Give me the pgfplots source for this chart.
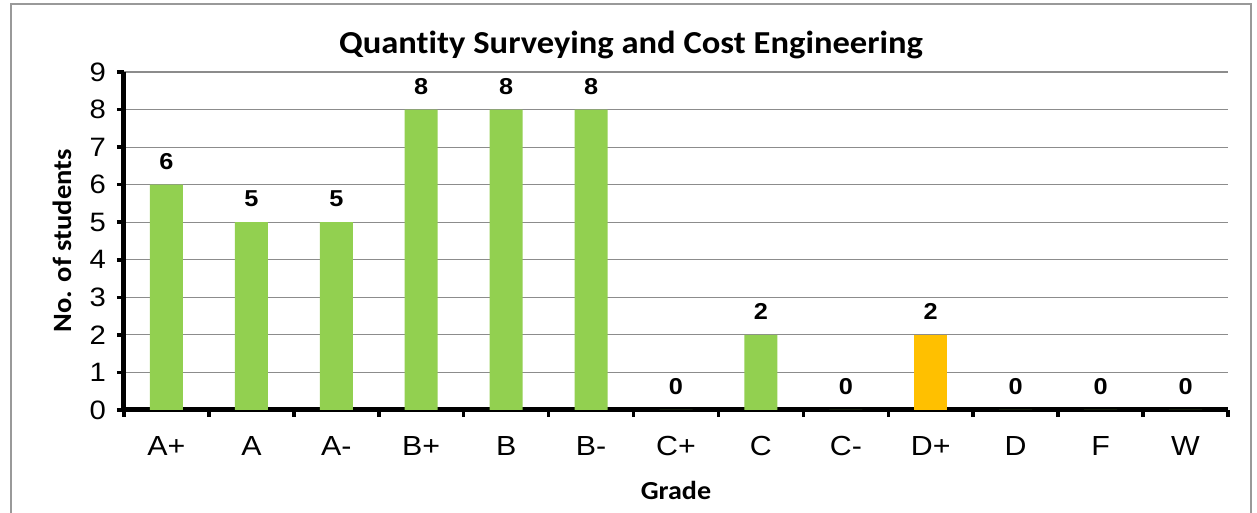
\documentclass[border=0pt]{standalone}
\usepackage{fontspec}
\setmainfont{Liberation Sans}[FakeStretch=1.1]
\newfontfamily\calibri{Carlito}[FakeStretch=1.08, Ligatures=NoCommon]
\usepackage{pgfplots}
\pgfplotsset{compat=1.18}
\definecolor{grn}{HTML}{92D050}
\definecolor{org}{HTML}{FFC000}
\begin{document}
\begin{tikzpicture}
\useasboundingbox (-62pt,-51.5pt) rectangle (566.5pt,205pt);
\draw[black!40, line width=0.8pt] (-56.5pt,-60pt) rectangle (563.5pt,203pt);
\begin{axis}[at={(0,0)}, anchor=south west, scale only axis,
  width=552pt, height=169pt,
  xmin=-0.5, xmax=12.5, ymin=0, ymax=9,
  xtick={0,...,12},
  xticklabels={A+,A,A-,B+,B,B-,C+,C,C-,D+,D,F,W},
  minor xtick={-0.5,0.5,...,12.5},
  ytick={0,...,9},
  axis lines*=left,
  axis line style={line width=2.5pt},
  tick align=outside,
  major tick length=3.5pt, minor tick length=3.5pt,
  every tick/.style={black, line width=1.8pt},
  major x tick style={draw=none},
  ymajorgrids,
  grid style={black!45, line width=0.6pt},
  /pgf/number format/assume math mode=true,
  xticklabel style={font=\fontsize{13.8}{15}\selectfont, yshift=-6pt},
  yticklabel style={font=\fontsize{13.3}{15}\selectfont, xshift=-2pt},
  ybar, bar width=16.5pt, bar shift=0pt,
  nodes near coords,
  nodes near coords style={font=\bfseries\fontsize{11.5}{13}\selectfont, yshift=4pt, black},
  clip=false,
]
\addplot[fill=grn, draw=none] coordinates {(0,6) (1,5) (2,5) (3,8) (4,8) (5,8) (6,0) (7,2) (8,0) (10,0) (11,0) (12,0)};
\addplot[fill=org, draw=none] coordinates {(9,2)};
\end{axis}
\node[font=\calibri\bfseries\fontsize{16}{18}\selectfont] at (253.5pt,182.5pt) {Quantity Surveying and Cost Engineering};
\node[font=\calibri\bfseries\fontsize{13}{15}\selectfont] at (276pt,-40pt) {Grade};
\node[font=\calibri\bfseries\fontsize{13.2}{15}\selectfont, rotate=90] at (-31pt,84.5pt) {No. of students};
\end{tikzpicture}
\end{document}
